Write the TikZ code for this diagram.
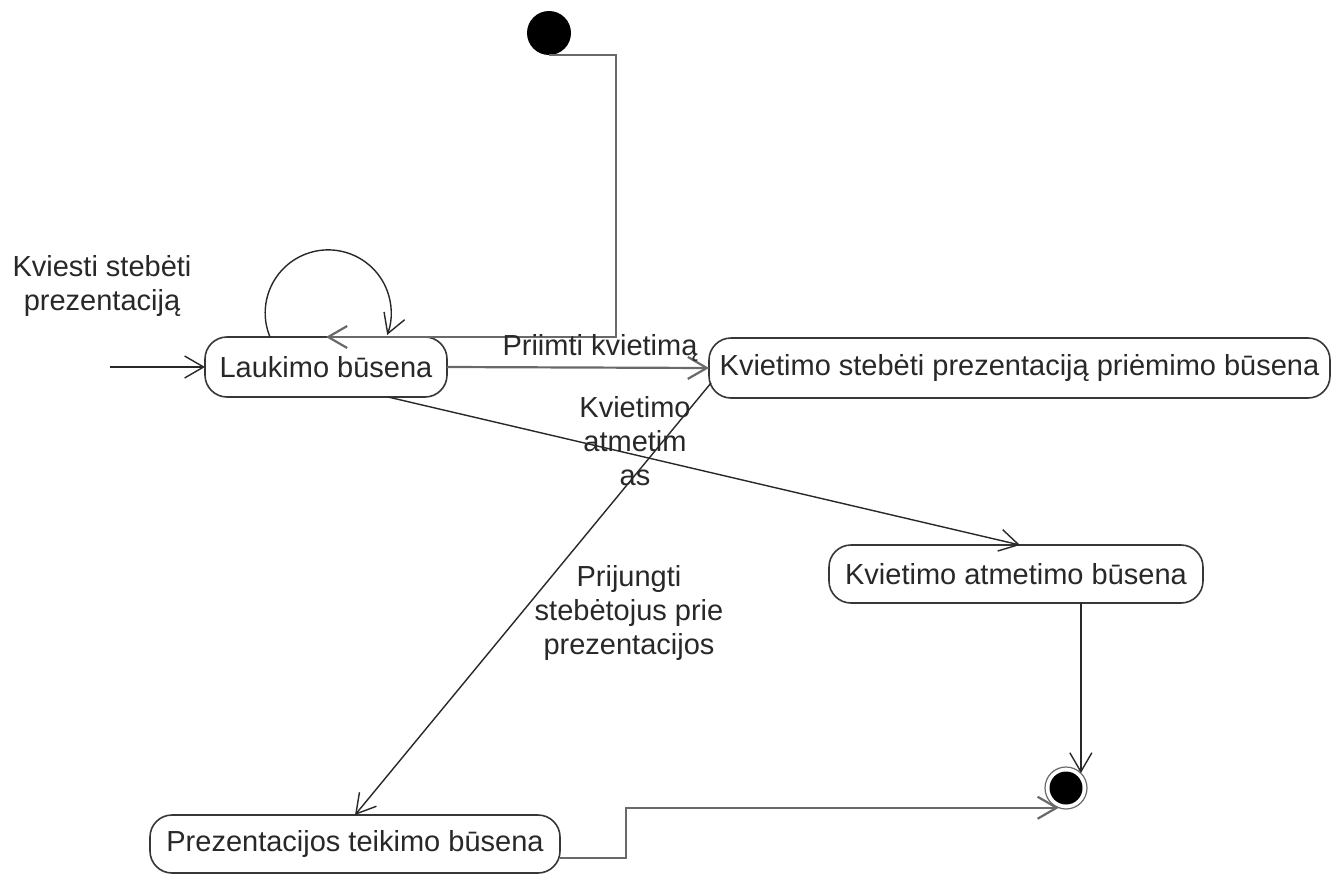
\documentclass[tikz,border=0pt]{standalone}
\usepackage{fontspec}
\setmainfont{Liberation Sans}
\usetikzlibrary{arrows.meta,calc}
\definecolor{ink}{RGB}{40,40,40}
\definecolor{edge}{RGB}{55,55,55}
\definecolor{wire}{RGB}{105,105,105}
\begin{document}
\begin{tikzpicture}[x=1pt,y=-1pt,
  every node/.style={font=\fontsize{29}{34}\selectfont, text=ink},
  statebox/.style={draw=edge, line width=1.6pt, rounded corners=22pt,
    inner sep=0pt, outer sep=0pt, align=center},
  lbl/.style={align=center, inner sep=0pt},
  arr/.style={-{Straight Barb[length=19pt,width=22pt]}, line width=1.4pt, draw=ink},
  grayarr/.style={arr, draw=wire, line width=2.2pt},
  pseudo/.style={circle, fill=black, inner sep=0pt, outer sep=0pt},
]
\fill[white] (0,0) rectangle (1341,875);
\useasboundingbox (0,0) rectangle (1341,875);

% states
\node[statebox, minimum width=242pt, minimum height=60pt] (lauk) at (326,367) {Laukimo būsena};
\node[statebox, minimum width=621pt, minimum height=60pt] (priem) at (1019.5,368) {Kvietimo stebėti prezentaciją priėmimo būsena};
\node[statebox, minimum width=374pt, minimum height=58pt] (atm) at (1016,574) {Kvietimo atmetimo būsena};
\node[statebox, minimum width=410pt, minimum height=58pt] (prez) at (355,844) {Prezentacijos teikimo būsena};

% initial and final pseudostates
\node[pseudo, minimum size=44pt] (init) at (549,33) {};
\node[circle, draw=wire, line width=1.2pt, fill=white, minimum size=42pt,
      inner sep=0pt, outer sep=0pt] (final) at (1066,788) {};
\fill[black] (final.center) circle[radius=16.5];

% entry from outside
\coordinate (entry) at (110,367);
\draw[arr] (entry) -- (lauk.west);

% initial transition running down and along the top of the first state
\draw[grayarr] (init.south) -| (616,337) -- (lauk.north);

% self transition
\draw[arr] ($(lauk.north)+(-56,0)$) arc[start angle=157.5, end angle=380.5, radius=63];

% transitions between states
\draw[grayarr] (lauk.east) -- (priem.west);
\draw[arr] ($(lauk.south)+(62,0)$) -- ($(atm.north)+(4,0)$);
\draw[arr] ($(priem.west)+(2,15)$) -- (prez.north);
\draw[arr] (final.north east |- atm.south) -- (final.north east);
\draw[grayarr] ($(prez.east)+(0,14)$) -- ++(66,0) |- (final.250);

% labels
\node[lbl] (lblinvite) at (102,286) {Kviesti stebėti\\prezentaciją};
\node[lbl, anchor=base] (lblaccept) at (600,355) {Priimti kvietimą};
\node[lbl] (lblreject) at (635,441) {Kvietimo\\atmetim\\as};
\node[lbl] (lbljoin) at (629,613) {Prijungti\\stebėtojus prie\\prezentacijos};
\end{tikzpicture}
\end{document}
